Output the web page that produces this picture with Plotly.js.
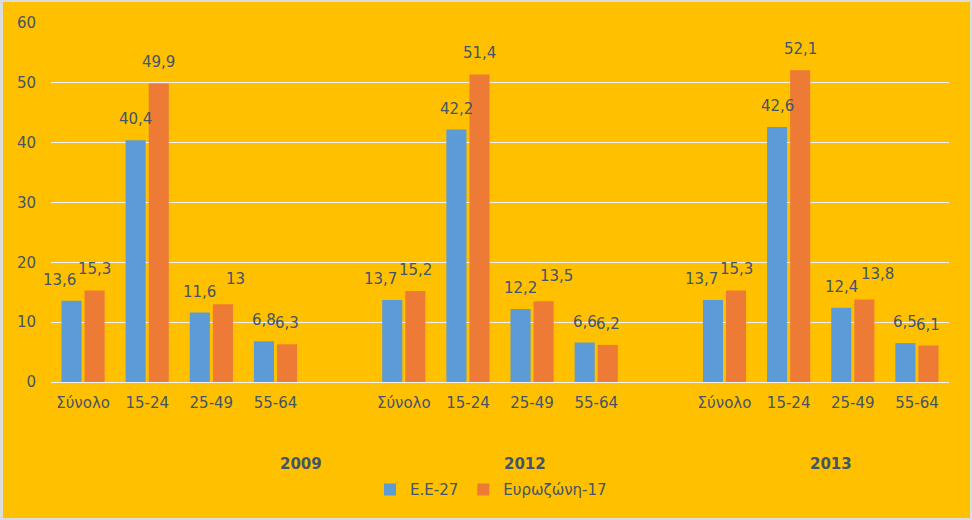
<!DOCTYPE html>
<html>
<head>
<meta charset="utf-8">
<script src="https://cdn.plot.ly/plotly-3.0.1.min.js"></script>
<style>
html,body{margin:0;padding:0;background:#dcdcdc;}
#graph{position:absolute;left:3px;top:2px;width:967px;height:516px;}
</style>
</head>
<body>
<div id="graph"></div>
<script>
// categories: 3 years x 4 age groups, with a blank slot between years
let years = ['2009','2012','2013'];
let ageGroups = ['Σύνολο','15-24','25-49','55-64'];

let eu27 = [
13.6, 40.4, 11.6, 6.8,
13.7, 42.2, 12.2, 6.6,
13.7, 42.6, 12.4, 6.5
];

let euro17 = [
15.3, 49.9, 13, 6.3,
15.2, 51.4, 13.5, 6.2,
15.3, 52.1, 13.8, 6.1
];

let yearLabelPos = [3.39, 6.89, 11.66];

// label nudges (px) per age group, like Excel moved them to avoid overlap
let nudgeBlue = [-12, 0, 0, 0];
let nudgeOrange = [0, 0, 13, 0];

let x = [];
let slots = [];
let tickvals = [];
let ticktext = [];

years.forEach((yr,i)=>{
    ageGroups.forEach(g=>{
        let key = yr + ' ' + g;
        x.push(key);
        slots.push(key);
        tickvals.push(key);
        ticktext.push(g);
    });
    if(i < years.length-1){
        slots.push('gap' + i);
    }
});

const txt = '#44546a';
const fnt = 'DejaVu Sans, sans-serif';
const fmt = v => String(v).replace('.', ',');

let labels = [];
x.forEach((k,i)=>{
    let g = i % 4;
    labels.push({
        x:k, xref:'x', y:eu27[i], yref:'y',
        xshift:-11.5 + nudgeBlue[g], yshift:10,
        yanchor:'bottom', showarrow:false,
        text:fmt(eu27[i]),
        font:{size:15,color:txt,family:fnt}
    });
    labels.push({
        x:k, xref:'x', y:euro17[i], yref:'y',
        xshift:11.5 + nudgeOrange[g], yshift:(g==2 ? 14 : 10),
        yanchor:'bottom', showarrow:false,
        text:fmt(euro17[i]),
        font:{size:15,color:txt,family:fnt}
    });
});

years.forEach((yr,i)=>{
    labels.push({
        x:yearLabelPos[i], xref:'x',
        y:-0.228, yref:'paper', yanchor:'middle',
        text:'<b>'+yr+'</b>', showarrow:false,
        font:{size:15,color:txt,family:fnt}
    });
});

Plotly.newPlot('graph',[

{
type:'bar',
x:x,
y:eu27,
name:'Ε.Ε-27',
marker:{color:'#5d9bd6'},
hoverinfo:'y'
},

{
type:'bar',
x:x,
y:euro17,
name:'Ευρωζώνη-17',
marker:{color:'#ee7b35'},
hoverinfo:'y'
}

],

{
width:967,
height:516,
paper_bgcolor:'#ffc000',
plot_bgcolor:'#ffc000',
font:{color:txt,family:fnt,size:15},
margin:{l:48,r:21,t:21,b:136},
barmode:'group',
bargap:0.28,
bargroupgap:0.13,
showlegend:true,
legend:{
orientation:'h',
x:0.49,
xanchor:'center',
y:-0.30,
yanchor:'middle',
font:{size:15,color:txt},
bgcolor:'rgba(0,0,0,0)'
},
xaxis:{
type:'category',
categoryorder:'array',
categoryarray:slots,
range:[-0.5, slots.length-0.5],
autorange:false,
tickvals:tickvals,
ticktext:ticktext,
ticks:'',
ticklabelstandoff:10,
showgrid:false,
showline:false,
zeroline:false,
tickfont:{size:15,color:txt}
},
yaxis:{
range:[0,60],
autorange:false,
dtick:10,
ticks:'',
ticklabelstandoff:14,
gridcolor:'#f2f2f2',
gridwidth:1,
zeroline:true,
zerolinecolor:'#f2f2f2',
zerolinewidth:1,
showline:false,
tickfont:{size:15,color:txt}
},
annotations:labels
},
{displayModeBar:false}
);
</script>
</body>
</html>
